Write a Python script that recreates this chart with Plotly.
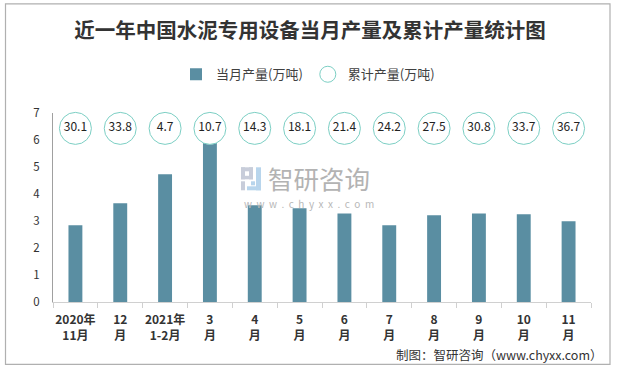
import plotly.graph_objects as go

categories = ["2020年<br>11月", "12<br>月", "2021年<br>1-2月", "3<br>月", "4<br>月", "5<br>月",
              "6<br>月", "7<br>月", "8<br>月", "9<br>月", "10<br>月", "11<br>月"]
monthly = [2.84, 3.66, 4.73, 5.89, 3.58, 3.47, 3.28, 2.84, 3.21, 3.28, 3.25, 2.99]
cumulative = [30.1, 33.8, 4.7, 10.7, 14.3, 18.1, 21.4, 24.2, 27.5, 30.8, 33.7, 36.7]
y_ticks = [0, 1, 2, 3, 4, 5, 6, 7]

W, H = 620, 369
L, R, T, B = 53, 591, 112.7, 301.7


def px(x):
    return (x - L) / (R - L)


def py(y):
    return (B - y) / (B - T)


BAR_COLOR = "#5a8ea2"
CIRCLE_COLOR = "#7ccfc4"
FONT = "Noto Sans CJK SC"

fig = go.Figure()
fig.add_trace(go.Bar(
    x=categories, y=monthly, name="当月产量(万吨)",
    marker=dict(color=BAR_COLOR, line=dict(width=0)),
))
bubble_level = 6.43
fig.add_trace(go.Scatter(
    x=categories, y=[bubble_level] * len(cumulative), name="累计产量(万吨)",
    mode="markers+text", text=[f"{v:.1f}" for v in cumulative],
    textposition="middle center",
    textfont=dict(size=12, color="#222222", family=FONT),
    marker=dict(symbol="circle", size=32, color="white",
                line=dict(color=CIRCLE_COLOR, width=1)),
    cliponaxis=False,
))


def rect(x0, y0, x1, y1, color):
    return dict(type="rect", xref="paper", yref="paper",
                x0=px(x0), x1=px(x1), y0=py(y1), y1=py(y0),
                line=dict(width=0), fillcolor=color, layer="above")


GRAY_BLUE = "#c8cdda"
LIGHT_BLUE = "#b8d5ec"
shapes = [dict(type="rect", xref="paper", yref="paper",
               x0=px(5.5), x1=px(610), y0=py(364), y1=py(3.5),
               line=dict(color="#b0b0b0", width=1.2), fillcolor="rgba(0,0,0,0)", layer="below"),
          rect(241, 167, 253, 171, GRAY_BLUE),
          rect(249, 167, 253, 179, GRAY_BLUE),
          rect(241, 175.5, 253, 179, GRAY_BLUE),
          rect(241, 167, 245, 179, GRAY_BLUE),
          rect(241, 181, 245, 190, GRAY_BLUE),
          rect(256, 167, 261, 190, LIGHT_BLUE),
          rect(247, 186, 261, 190, LIGHT_BLUE),
          rect(251, 181, 255, 185, LIGHT_BLUE),
          ]

www_text = "\u00a0 ".join("www.chyxx.com")

annotations = [
    dict(text="制图：智研咨询（www.chyxx.com）", xref="paper", yref="paper",
         x=px(605), y=py(354), xanchor="right", yanchor="middle", showarrow=False,
         font=dict(size=12.5, color="#333333", family=FONT)),
    dict(text="智研咨询", xref="paper", yref="paper",
         x=px(266), y=py(177), xanchor="left", yanchor="middle", showarrow=False,
         font=dict(size=25.5, color="#b3b3b3", family=FONT)),
    dict(text=www_text, xref="paper", yref="paper",
         x=px(309), y=py(203), xanchor="center", yanchor="middle", showarrow=False,
         font=dict(size=10, color="#b8b8b8", family=FONT)),
]

fig.update_layout(
    width=W, height=H,
    margin=dict(l=L, r=W - R, t=T, b=H - B, pad=0, autoexpand=False),
    paper_bgcolor="white", plot_bgcolor="white",
    title=dict(text="<b>近一年中国水泥专用设备当月产量及累计产量统计图</b>",
               x=0.5, xref="container", y=1 - 31 / H, yref="container",
               xanchor="center", yanchor="middle",
               font=dict(size=20.5, color="#333333", family=FONT)),
    legend=dict(orientation="h", x=px(308), y=py(74), xanchor="center", yanchor="middle",
                font=dict(size=13, color="#404040", family=FONT),
                itemwidth=30, tracegroupgap=0, bgcolor="rgba(0,0,0,0)"),
    bargap=0.69,
    showlegend=True,
    xaxis=dict(range=[-0.5, len(categories) - 0.5], showline=True, linecolor="#d0d0d0", linewidth=1,
               ticks="outside", tickson="boundaries", ticklen=5, tickcolor="#d0d0d0",
               showgrid=False, zeroline=False, tickangle=0, automargin=False,
               ticklabelstandoff=7,
               tickfont=dict(size=12, color="#333333", family=FONT),
               tickprefix="<b>", ticksuffix="</b>"),
    yaxis=dict(range=[0, 7], tickvals=y_ticks, showline=True, linecolor="#a0a0a0", linewidth=1,
               showgrid=False, zeroline=False, ticks="", ticklabelstandoff=10, automargin=False,
               tickfont=dict(size=11.5, color="#333333", family=FONT)),
    shapes=shapes, annotations=annotations,
    font=dict(family=FONT),
)

fig.write_html("out.html", config={"displayModeBar": False},
               post_script="document.body.style.margin='0';")
